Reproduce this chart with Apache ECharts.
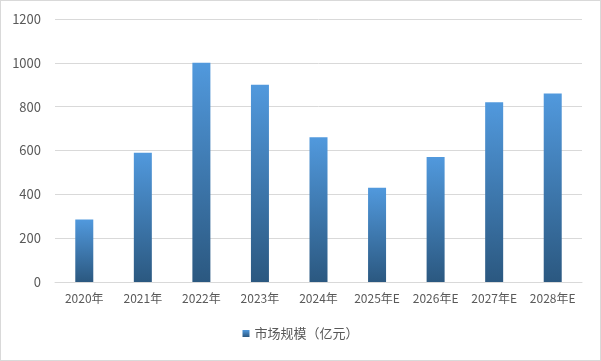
<!DOCTYPE html>
<html><head><meta charset="utf-8">
<script src="https://cdn.jsdelivr.net/npm/echarts@6/dist/echarts.min.js"></script>
<style>html,body{margin:0;padding:0;background:#fff}#c{width:599px;height:359px;border:1px solid #d9d9d9}</style>
</head><body><div id="c"></div>
<script>
const categories = ['2020年','2021年','2022年','2023年','2024年','2025年E','2026年E','2027年E','2028年E'];
const values = [285, 590, 1000, 900, 660, 430, 570, 820, 860];
const seriesName = '市场规模（亿元）';
const yTicks = {min: 0, max: 1200, interval: 200};

const chart = echarts.init(document.getElementById('c'), null, {renderer: 'canvas'});
const grad = new echarts.graphic.LinearGradient(0, 0, 0, 1, [
  {offset: 0, color: '#5199dd'},
  {offset: 1, color: '#2b5880'}
]);
chart.setOption({
  animation: false,
  textStyle: {fontFamily: '"Noto Sans CJK SC", "Noto Sans", sans-serif', color: '#595959'},
  grid: {left: 54, right: 18, top: 18, bottom: 78},
  legend: {
    bottom: 15, left: 'center', itemWidth: 7, itemHeight: 7, itemGap: 4,
    icon: 'rect',
    textStyle: {fontSize: 13, color: '#595959'},
    data: [seriesName]
  },
  xAxis: {
    type: 'category', data: categories,
    axisLine: {lineStyle: {color: '#d9d9d9'}},
    axisTick: {show: false},
    axisLabel: {color: '#595959', fontSize: 12, margin: 10, interval: 0}
  },
  yAxis: {
    type: 'value', min: yTicks.min, max: yTicks.max, interval: yTicks.interval,
    axisLine: {show: false}, axisTick: {show: false},
    axisLabel: {color: '#595959', fontSize: 13, margin: 14, formatter: v => String(v)},
    splitLine: {lineStyle: {color: '#d9d9d9'}}
  },
  series: [{
    name: seriesName, type: 'bar', data: values, barWidth: 18,
    itemStyle: {color: grad}
  }]
});
</script></body></html>
